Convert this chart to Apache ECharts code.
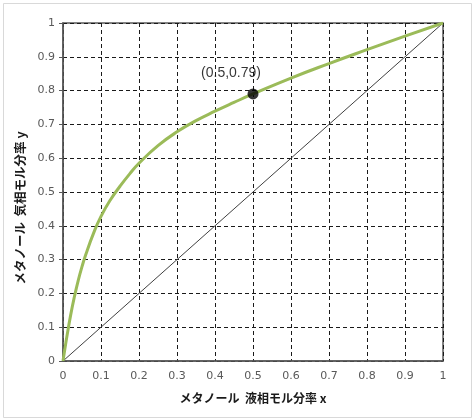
<!DOCTYPE html>
<html>
<head>
<meta charset="utf-8">
<script src="https://cdn.jsdelivr.net/npm/echarts@6/dist/echarts.min.js"></script>
<style>
html,body{margin:0;padding:0;background:#ffffff;}
#chart{width:474px;height:419px;}
</style>
</head>
<body>
<div id="chart"></div>
<script>
// Equilibrium curve (methanol liquid mole fraction x -> vapour mole fraction y)
const curveX = [0, 0.005, 0.01, 0.02, 0.03, 0.04, 0.05, 0.06, 0.08, 0.10, 0.125, 0.15, 0.175, 0.20, 0.25, 0.30, 0.35, 0.40, 0.45, 0.50, 0.60, 0.70, 0.80, 0.90, 1.0];
const curveY = [0, 0.036, 0.071, 0.135, 0.19, 0.238, 0.279, 0.315, 0.377, 0.428, 0.477, 0.517, 0.553, 0.585, 0.637, 0.678, 0.711, 0.739, 0.765, 0.79, 0.837, 0.880, 0.921, 0.961, 1.0];
// Diagonal y = x
const diagX = [0, 1];
const diagY = [0, 1];
// Highlighted point
const pointX = [0.5];
const pointY = [0.79];
const pointLabel = ['(0.5,0.79)'];
// Axis ticks
const axisMin = 0, axisMax = 1, axisStep = 0.1;
const xName = 'メタノール  液相モル分率 x';
const yName = 'メタノール  気相モル分率 y';

const zip = (a, b) => a.map((v, i) => [v, b[i]]);

const chart = echarts.init(document.getElementById('chart'), null, {renderer: 'canvas'});
const gridLine = {show: true, lineStyle: {color: '#1a1a1a', width: 1, type: [4, 3]}};
const tickLabel = {color: '#595959', fontSize: 11, fontFamily: 'DejaVu Sans', formatter: v => String(Math.round(v * 10) / 10)};
const nameStyle = {color: '#1a1a1a', fontSize: 12, fontWeight: 'bold', fontFamily: '"Noto Sans CJK JP"'};

chart.setOption({
  animation: false,
  backgroundColor: '#ffffff',
  graphic: [{
    type: 'rect', left: 1, top: 1, silent: true,
    shape: {width: 468, height: 414},
    style: {fill: 'none', stroke: '#d9d9d9', lineWidth: 1}
  }],
  grid: {left: 63, right: 31, top: 23, bottom: 58, show: true, borderColor: '#595959', borderWidth: 1.5, backgroundColor: 'transparent'},
  xAxis: {
    type: 'value', min: axisMin, max: axisMax, interval: axisStep,
    name: xName, nameLocation: 'middle', nameGap: 31, nameTextStyle: nameStyle,
    axisLine: {show: true, lineStyle: {color: '#595959', width: 1.5}},
    axisTick: {show: false},
    axisLabel: Object.assign({margin: 10}, tickLabel),
    splitLine: gridLine
  },
  yAxis: {
    type: 'value', min: axisMin, max: axisMax, interval: axisStep,
    name: yName, nameLocation: 'middle', nameGap: 26,
    nameTextStyle: Object.assign({}, nameStyle, {fontSize: 12.5, padding: [0, 32, 0, 0]}),
    axisLine: {show: true, lineStyle: {color: '#595959', width: 1.5}},
    axisTick: {show: true, length: 4, lineStyle: {color: '#595959'}},
    axisLabel: Object.assign({margin: 8}, tickLabel),
    splitLine: gridLine
  },
  series: [
    {
      type: 'line', data: zip(diagX, diagY), symbol: 'none',
      lineStyle: {color: '#404040', width: 1}, z: 2
    },
    {
      type: 'line', data: zip(curveX, curveY), symbol: 'none', smooth: 0.5,
      lineStyle: {color: '#9BBB59', width: 3}, z: 3
    },
    {
      type: 'scatter', data: zip(pointX, pointY), symbol: 'circle', symbolSize: 11,
      itemStyle: {color: '#000000'}, z: 4,
      label: {
        show: true, position: 'top', offset: [-22, -3],
        formatter: () => pointLabel[0],
        color: '#000000', fontSize: 14, fontFamily: '"Liberation Sans", Arial'
      }
    }
  ]
});
</script>
</body>
</html>
